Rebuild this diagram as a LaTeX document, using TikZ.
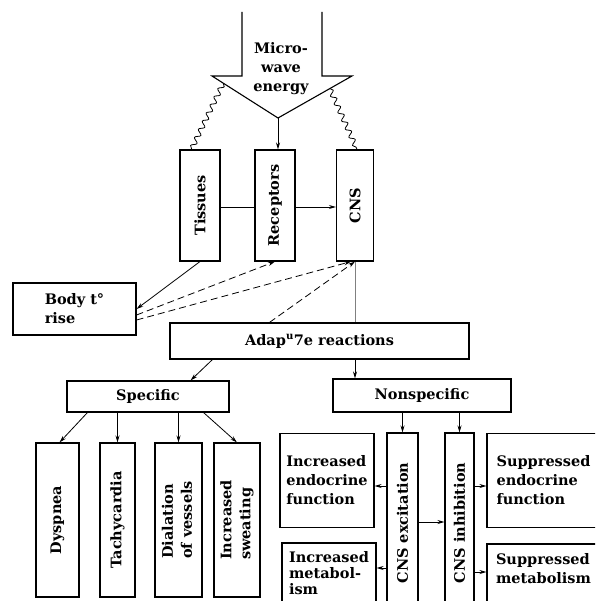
\documentclass[tikz,border=0pt]{standalone}
\usepackage{fontspec}
\setmainfont{DejaVu Serif}
\usepackage{graphicx}
\usetikzlibrary{calc}
\usetikzlibrary{positioning}
\usetikzlibrary{arrows.meta}
\usetikzlibrary{decorations.pathmorphing}

\begin{document}
\begin{tikzpicture}[
    x=1pt, y=-1pt,
    every node/.style={font=\fontsize{14.5}{19}\selectfont\bfseries},
    plainbox/.style={rectangle, draw=black, line width=1.1pt, fill=white, inner sep=3pt},
    textbox/.style={plainbox, align=left},
    link/.style={line width=0.8pt, -{Stealth[length=7pt, width=4pt]}},
    dashlink/.style={link, dash pattern=on 7pt off 4pt},
    wavy/.style={line width=0.8pt, decorate, decoration={snake, amplitude=2.5pt, segment length=9pt}},
]
    \path[use as bounding box, clip] (0,0) rectangle (595,601);

    % Microwave energy
    \coordinate (lshaft) at (242,12);
    \coordinate (rshaft) at (322,12);
    \coordinate (lwing) at (212,76);
    \coordinate (rwing) at (352,76);
    \coordinate (tip) at (278,118);
    \draw [line width=1.1pt] (lshaft) -- (242,76) -- (lwing) -- (tip) -- (rwing) -- (322,76) -- (rshaft);
    \node at (281,69)[align=center](energy){Micro-\\wave\\energy};

    % Tissues, receptors, CNS
    \node at (200,205.5)[plainbox, minimum width=40pt, minimum height=111pt](tissues){\rotatebox{90}{Tissues}};
    \node at (275,205.5)[plainbox, minimum width=40pt, minimum height=111pt](receptors){\rotatebox{90}{Receptors}};
    \node at (355,205.5)[plainbox, minimum width=37pt, minimum height=111pt](cns){\rotatebox{90}{CNS}};
    \draw [link] (tip) -- (tip |- receptors.north);
    \draw [wavy] ($(lwing)!0.17!(tip)$) -- ($(tissues.north west)+(12,0)$);
    \draw [wavy] ($(rwing)!0.3!(tip)$) -- ($(cns.north east)+(-17,0)$);
    \draw [line width=0.8pt] (tissues.east |- 0,207) -- (receptors.west |- 0,207);
    \draw [link] (receptors.east |- 0,207) -- (cns.west |- 0,207);

    % Body temperature
    \node at (74.5,309)[textbox, minimum width=123pt, minimum height=52pt](body){Body t°\\rise};
    \draw [link] (tissues.south) -- (body.east);
    \draw [dashlink] ([yshift=-6pt]body.east) -- (receptors.south);
    \draw [dashlink] ([yshift=-11pt]body.east) -- ([xshift=-4pt]cns.south);

    % Adaptive reactions
    \node at (319.5,341)[plainbox, minimum width=299pt, minimum height=36pt](adaptive){Adap\textsuperscript{u}7e reactions};
    \draw [dashlink] ($(adaptive.north west)+(100,0)$) -- (cns.south);
    \draw [gray, line width=0.6pt] (cns.south) -- (cns.south |- adaptive.north);

    % Specific
    \node at (148,396.5)[plainbox, minimum width=162pt, minimum height=31pt](specific){Specific};
    \draw [link] ($(adaptive.south west)+(43,0)$) -- ($(specific.north east)+(-39,0)$);
    \node at (57.5,520)[plainbox, minimum width=43pt, minimum height=154pt](dyspnea){\rotatebox{90}{Dyspnea}};
    \node at (117.5,520)[plainbox, minimum width=35pt, minimum height=154pt](tachy){\rotatebox{90}{Tachycardia}};
    \node at (178.5,520)[plainbox, minimum width=47pt, minimum height=154pt](dialation){\rotatebox{90}{\begin{tabular}{@{}l@{}}Dialation\\of vessels\end{tabular}}};
    \node at (237,520)[plainbox, minimum width=46pt, minimum height=154pt](sweating){\rotatebox{90}{\begin{tabular}{@{}l@{}}Increased\\sweating\end{tabular}}};
    \draw [link] ($(specific.south west)+(21,0)$) -- ($(dyspnea.north)+(2,0)$);
    \draw [link] (tachy.north |- specific.south) -- (tachy.north);
    \draw [link] (dialation.north |- specific.south) -- (dialation.north);
    \draw [link] ($(specific.south east)+(-26,0)$) -- (sweating.north);

    % Nonspecific
    \node at (422,395.5)[plainbox, minimum width=178pt, minimum height=33pt](nonspecific){Nonspecific};
    \draw [link] (cns.south |- adaptive.south) -- (cns.south |- nonspecific.north);
    \node at (402.5,523)[plainbox, minimum width=31pt, minimum height=180pt](excite){\rotatebox{90}{CNS excitation}};
    \node at (459.5,523)[plainbox, minimum width=29pt, minimum height=180pt](inhib){\rotatebox{90}{CNS inhibition}};
    \node at (327,480.5)[textbox, minimum width=94pt, minimum height=94pt](incendo){Increased\\endocrine\\function};
    \node at (329,573)[textbox, minimum width=94pt, minimum height=60pt, font=\fontsize{14.5}{16}\selectfont\bfseries](incmeta){Increased\\metabol-\\ism};
    \node at (543.5,578)[textbox, minimum width=113pt, minimum height=68pt](supmeta){Suppressed\\metabolism\\\mbox{}};
    \node at (543.5,480.5)[textbox, minimum width=113pt, minimum height=94pt](supendo){Suppressed\\endocrine\\function};
    \draw [link] (excite.north |- nonspecific.south) -- (excite.north);
    \draw [link] (inhib.north |- nonspecific.south) -- (inhib.north);
    \draw [link] (excite.west |- 0,486) -- (incendo.east |- 0,486);
    \draw [link] (excite.west |- 0,568) -- (incmeta.east |- 0,568);
    \draw [link] (excite.east |- 0,522) -- (inhib.west |- 0,522);
    \draw [link] (inhib.east |- 0,486) -- (supendo.west |- 0,486);
    \draw [link] (inhib.east |- 0,572) -- (supmeta.west |- 0,572);

\end{tikzpicture}
\end{document}
